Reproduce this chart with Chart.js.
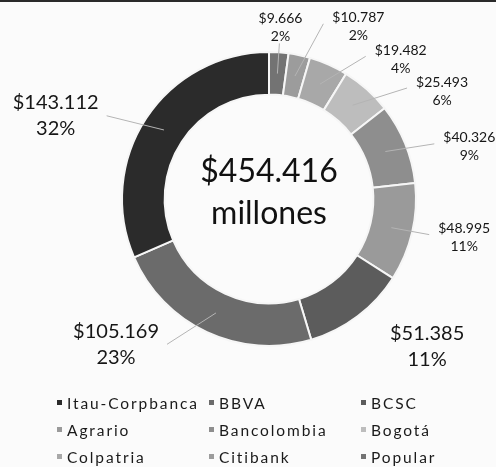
<!DOCTYPE html>
<html>
<head>
<meta charset="utf-8">
<script src="https://cdn.jsdelivr.net/npm/chart.js@4.4.0/dist/chart.umd.min.js"></script>
<style>
    body {
        margin: 0;
        background: #fbfbfb;
        font-family: 'Lato', sans-serif;
    }

    #wrap {
        position: relative;
        width: 496px;
        height: 467px;
        overflow: hidden;
    }

    #topline {
        position: absolute;
        left: 0;
        top: 0;
        width: 496px;
        height: 2px;
        background: #2a2a2a;
    }

    canvas {
        position: absolute;
        left: 0;
        top: 0;
    }

    #legend {
        position: absolute;
        left: 57px;
        top: 389px;
        display: grid;
        grid-template-columns: 152px 152px 120px;
        grid-auto-rows: 27px;
        font-size: 15.5px;
        letter-spacing: 1.9px;
        color: #1a1a1a;
    }

    #legend div {
        display: flex;
        align-items: center;
        white-space: nowrap;
    }

    #legend .box {
        display: inline-block;
        width: 5px;
        height: 5px;
        margin-right: 5px;
    }
</style>
<title>Cartera por banco</title>
</head>
<body>
<div id="wrap">
    <canvas id="myChart" width="496" height="467"></canvas>
    <div id="topline"></div>
    <div id="legend"></div>
</div>

<script>
    // data, legend order
    var banks = ['Itau-Corpbanca', 'BBVA', 'BCSC', 'Agrario', 'Bancolombia', 'Bogotá', 'Colpatria', 'Citibank', 'Popular'];
    var amounts = [143112, 105169, 51385, 48995, 40326, 25493, 19482, 10787, 9666];
    var totalLabel = 454416;
    var totalUnit = 'millones';

    var colors = ['#2b2b2b', '#6b6b6b', '#5c5c5c', '#9a9a9a', '#8e8e8e', '#bdbdbd', '#a8a8a8', '#9c9c9c', '#737373'];

    // where the outside labels sit: angle nudge (deg) from slice middle, distance from centre
    var labelLayout = [
        { da: -12, r: 229, big: true, end: 'r' },
        { da: 21.5, r: 211, big: true, end: 'r' },
        { da: -10, r: 216, big: true, end: null },
        { da: -2, r: 199, big: false, end: 'l' },
        { da: 7.6, r: 207, big: false, end: 'l' },
        { da: 16.3, r: 204, big: false, end: 'l' },
        { da: 19.4, r: 192, big: false, end: 'l' },
        { da: 15.5, r: 194, big: false, end: 'l' },
        { da: 0, r: 172, big: false, end: 'b' }
    ];

    function fmt(n) {
        return '$' + String(n).replace(/\B(?=(\d{3})+(?!\d))/g, '.');
    }

    // whole percentages that add up to 100 (largest remainder)
    var sum = amounts.reduce(function (a, b) { return a + b; }, 0);
    var raw = amounts.map(function (v) { return v / sum * 100; });
    var pct = raw.map(Math.floor);
    var left = 100 - pct.reduce(function (a, b) { return a + b; }, 0);
    raw.map(function (v, i) { return i; })
        .sort(function (a, b) { return (raw[b] - pct[b]) - (raw[a] - pct[a]); })
        .slice(0, left)
        .forEach(function (i) { pct[i] += 1; });

    // chart goes clockwise from the top starting with the smallest bank
    var drawOrder = banks.map(function (b, i) { return i; }).reverse();

    var outsideLabels = {
        id: 'outsideLabels',
        afterDatasetsDraw: function (chart) {
            var ctx = chart.ctx;
            var meta = chart.getDatasetMeta(0);
            ctx.save();
            meta.data.forEach(function (arc, i) {
                var k = drawOrder[i];
                var lay = labelLayout[k];
                var p = arc.getProps(['x', 'y', 'startAngle', 'endAngle', 'innerRadius', 'outerRadius'], true);
                var mid = (p.startAngle + p.endAngle) / 2;
                var a = mid + lay.da * Math.PI / 180;
                var lx = p.x + Math.cos(a) * lay.r;
                var ly = p.y + Math.sin(a) * lay.r;

                var size = lay.big ? 20 : 14;
                var gap = lay.big ? 13 : 9;
                var l1 = fmt(amounts[k]);
                var l2 = pct[k] + '%';
                ctx.font = size + 'px Lato';
                var w = Math.max(ctx.measureText(l1).width, ctx.measureText(l2).width);

                if (lay.end) {
                    var rm = (p.innerRadius + p.outerRadius) / 2;
                    var sx = p.x + Math.cos(mid) * rm;
                    var sy = p.y + Math.sin(mid) * rm;
                    var ex, ey;
                    if (lay.end === 'l') { ex = lx - w / 2 - 9; ey = ly - 3; }
                    else if (lay.end === 'r') { ex = lx + w / 2 + 8; ey = ly; }
                    else { ex = sx + 2; ey = ly + 16; }
                    ctx.strokeStyle = '#b4b4b4';
                    ctx.lineWidth = 1;
                    ctx.beginPath();
                    ctx.moveTo(sx, sy);
                    ctx.lineTo(ex, ey);
                    ctx.stroke();
                }

                ctx.fillStyle = '#161616';
                ctx.textAlign = 'center';
                ctx.textBaseline = 'middle';
                ctx.fillText(l1, lx, ly - gap);
                ctx.fillText(l2, lx, ly + gap);
            });

            // total in the hole
            var c = meta.data[0];
            ctx.font = '32px Lato';
            ctx.fillStyle = '#111';
            ctx.fillText(fmt(totalLabel), c.x, c.y - 27);
            ctx.fillText(totalUnit, c.x, c.y + 15);
            ctx.restore();
        }
    };

    var newChartElement = document.getElementById('myChart').getContext('2d');
    var myChart = new Chart(newChartElement, {
        type: 'doughnut',
        data: {
            labels: drawOrder.map(function (k) { return banks[k]; }),
            datasets: [{
                data: drawOrder.map(function (k) { return amounts[k]; }),
                backgroundColor: drawOrder.map(function (k) { return colors[k]; }),
                borderColor: '#f6f6f6',
                borderWidth: 2
            }]
        },
        options: {
            responsive: false,
            animation: false,
            cutout: '71%',
            layout: {
                padding: { left: 121, right: 79, top: 51, bottom: 120 }
            },
            plugins: {
                legend: { display: false },
                tooltip: { enabled: false }
            }
        },
        plugins: [outsideLabels]
    });

    var lg = document.getElementById('legend');
    banks.forEach(function (b, i) {
        var item = document.createElement('div');
        var box = document.createElement('span');
        box.className = 'box';
        box.style.background = colors[i];
        item.appendChild(box);
        item.appendChild(document.createTextNode(b));
        lg.appendChild(item);
    });
</script>
</body>
</html>
